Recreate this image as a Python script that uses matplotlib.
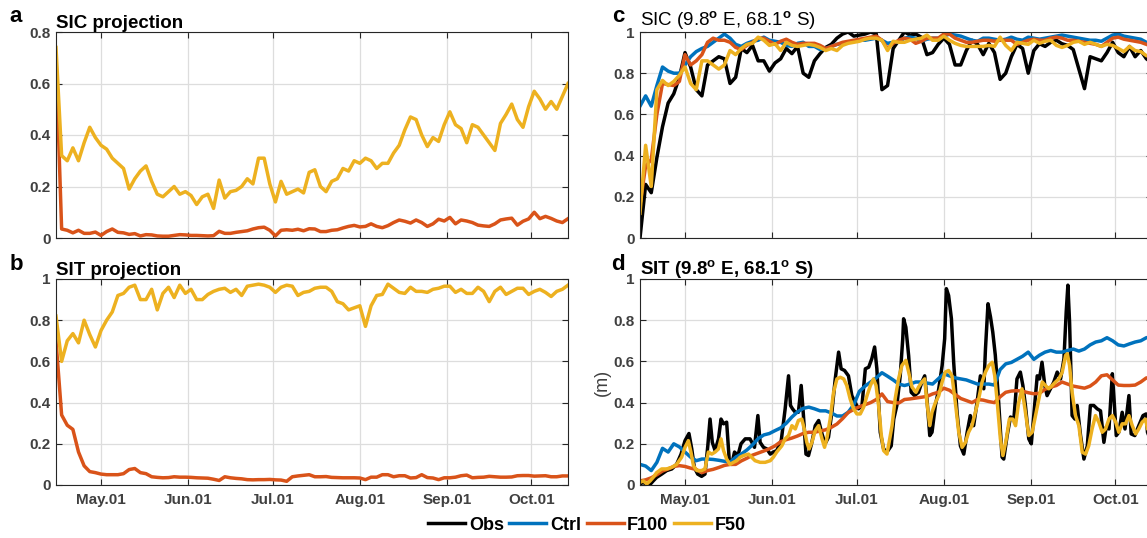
import numpy as np
import matplotlib
matplotlib.use('Agg')
import matplotlib.pyplot as plt
import matplotlib.dates as mdates
from matplotlib.ticker import FuncFormatter
import datetime as dt

plt.rcParams['font.family'] = ['Liberation Sans', 'DejaVu Sans']
plt.rcParams['font.weight'] = 'bold'
plt.rcParams['mathtext.fontset'] = 'custom'
plt.rcParams['mathtext.rm'] = 'Liberation Sans'
plt.rcParams['mathtext.bf'] = 'Liberation Sans:bold'

# ---------------- data ----------------
START = dt.datetime(2019, 4, 15)
N_DAYS = 182
month_ticks = [dt.datetime(2019, m, 1) for m in range(5, 11)]

# panel a: SIC projection (values every 2 days from Apr 15)
sic_proj_f100 = [0.70, 0.035, 0.03, 0.02, 0.03, 0.018, 0.018, 0.023, 0.01, 0.025,
                 0.035, 0.022, 0.02, 0.014, 0.017, 0.008, 0.013, 0.012, 0.008, 0.007,
                 0.007, 0.01, 0.013, 0.012, 0.01, 0.01, 0.009, 0.008, 0.009, 0.026,
                 0.018, 0.018, 0.022, 0.025, 0.028, 0.035, 0.04, 0.042, 0.03, 0.008,
                 0.03, 0.032, 0.03, 0.034, 0.028, 0.036, 0.035, 0.025, 0.025, 0.03,
                 0.032, 0.039, 0.045, 0.049, 0.043, 0.045, 0.055, 0.045, 0.04, 0.048,
                 0.06, 0.07, 0.065, 0.058, 0.07, 0.06, 0.045, 0.055, 0.073, 0.066,
                 0.08, 0.055, 0.07, 0.066, 0.06, 0.05, 0.047, 0.045, 0.055, 0.07,
                 0.074, 0.077, 0.05, 0.065, 0.074, 0.10, 0.075, 0.084, 0.076, 0.066,
                 0.06, 0.075]
sic_proj_f50 = [0.74, 0.32, 0.30, 0.35, 0.30, 0.37, 0.43, 0.39, 0.36, 0.345,
                0.31, 0.29, 0.27, 0.19, 0.23, 0.26, 0.28, 0.22, 0.17, 0.16,
                0.18, 0.20, 0.17, 0.18, 0.165, 0.13, 0.16, 0.17, 0.115, 0.225,
                0.155, 0.18, 0.185, 0.20, 0.23, 0.21, 0.31, 0.31, 0.21, 0.14,
                0.22, 0.17, 0.18, 0.19, 0.175, 0.255, 0.265, 0.20, 0.18, 0.22,
                0.23, 0.27, 0.26, 0.30, 0.29, 0.31, 0.30, 0.27, 0.29, 0.29,
                0.33, 0.36, 0.42, 0.47, 0.46, 0.40, 0.355, 0.39, 0.375, 0.44,
                0.49, 0.44, 0.425, 0.37, 0.44, 0.43, 0.40, 0.37, 0.34, 0.445,
                0.48, 0.52, 0.46, 0.43, 0.51, 0.57, 0.54, 0.50, 0.53, 0.50,
                0.55, 0.60]

# panel b: SIT projection
sit_proj_f100 = [0.70, 0.34, 0.29, 0.27, 0.16, 0.093, 0.065, 0.06, 0.053, 0.05,
                 0.05, 0.05, 0.055, 0.075, 0.08, 0.06, 0.055, 0.04, 0.037, 0.035,
                 0.036, 0.04, 0.038, 0.038, 0.037, 0.035, 0.034, 0.033, 0.028, 0.022,
                 0.04, 0.035, 0.032, 0.03, 0.026, 0.025, 0.026, 0.026, 0.027, 0.025,
                 0.024, 0.018, 0.04, 0.044, 0.047, 0.05, 0.04, 0.04, 0.041, 0.037,
                 0.036, 0.035, 0.035, 0.035, 0.034, 0.026, 0.038, 0.038, 0.05, 0.05,
                 0.04, 0.045, 0.045, 0.034, 0.036, 0.05, 0.036, 0.034, 0.026, 0.035,
                 0.035, 0.038, 0.045, 0.048, 0.035, 0.037, 0.038, 0.042, 0.04, 0.038,
                 0.038, 0.039, 0.045, 0.046, 0.046, 0.043, 0.044, 0.045, 0.04, 0.04,
                 0.044, 0.044]
sit_proj_f50 = [0.82, 0.60, 0.70, 0.735, 0.69, 0.80, 0.73, 0.67, 0.75, 0.80,
                0.84, 0.92, 0.93, 0.96, 0.97, 0.90, 0.90, 0.95, 0.85, 0.93,
                0.96, 0.91, 0.97, 0.93, 0.95, 0.90, 0.90, 0.925, 0.94, 0.95,
                0.955, 0.935, 0.95, 0.92, 0.965, 0.97, 0.975, 0.97, 0.96, 0.935,
                0.96, 0.97, 0.965, 0.92, 0.935, 0.94, 0.955, 0.96, 0.96, 0.94,
                0.89, 0.88, 0.85, 0.86, 0.87, 0.77, 0.87, 0.92, 0.925, 0.975,
                0.955, 0.935, 0.93, 0.96, 0.94, 0.94, 0.935, 0.95, 0.955, 0.965,
                0.965, 0.935, 0.95, 0.93, 0.93, 0.96, 0.94, 0.89, 0.94, 0.96,
                0.925, 0.94, 0.955, 0.955, 0.925, 0.94, 0.95, 0.935, 0.915, 0.94,
                0.95, 0.97]

# panel c: SIC at 9.8E, 68.1S
sic_obs = [0.0, 0.26, 0.22, 0.39, 0.54, 0.655, 0.70, 0.78, 0.90, 0.83,
           0.72, 0.69, 0.84, 0.86, 0.88, 0.87, 0.75, 0.78, 0.92, 0.90,
           0.935, 0.86, 0.86, 0.81, 0.85, 0.87, 0.92, 0.895, 0.93, 0.80,
           0.78, 0.86, 0.895, 0.925, 0.94, 0.97, 0.99, 1.0, 0.98, 0.985,
           0.99, 1.0, 0.99, 0.72, 0.74, 0.92, 0.96, 1.0, 0.985, 0.99,
           0.975, 0.89, 0.90, 0.94, 0.97, 0.94, 0.84, 0.84, 0.91, 0.96,
           0.94, 0.89, 0.945, 0.90, 0.77, 0.80, 0.88, 0.94, 0.92, 0.80,
           0.91, 0.943, 0.93, 0.95, 0.96, 0.943, 0.935, 0.915, 0.82, 0.725,
           0.88, 0.87, 0.86, 0.90, 0.95, 0.90, 0.88, 0.93, 0.88, 0.91,
           0.87, 0.85]
sic_ctrl = [0.64, 0.69, 0.64, 0.74, 0.83, 0.81, 0.80, 0.80, 0.84, 0.88,
            0.905, 0.92, 0.93, 0.95, 0.97, 0.99, 0.97, 0.94, 0.93, 0.945,
            0.955, 0.96, 0.975, 0.96, 0.955, 0.95, 0.935, 0.93, 0.945, 0.95,
            0.93, 0.93, 0.915, 0.92, 0.93, 0.94, 0.945, 0.95, 0.955, 0.96,
            0.96, 0.965, 0.97, 0.96, 0.945, 0.95, 0.95, 0.97, 0.975, 0.97,
            0.955, 0.965, 0.97, 0.97, 0.98, 0.99, 0.985, 0.98, 0.97, 0.96,
            0.955, 0.97, 0.97, 0.965, 0.96, 0.965, 0.975, 0.965, 0.96, 0.975,
            0.97, 0.965, 0.97, 0.975, 0.98, 0.985, 0.98, 0.975, 0.97, 0.965,
            0.96, 0.96, 0.955, 0.97, 0.985, 0.99, 0.98, 0.975, 0.97, 0.965,
            0.95, 0.94]
sic_f100 = [0.16, 0.35, 0.38, 0.60, 0.75, 0.745, 0.74, 0.76, 0.89, 0.84,
            0.86, 0.89, 0.95, 0.97, 0.96, 0.96, 0.95, 0.925, 0.915, 0.935,
            0.95, 0.97, 0.97, 0.955, 0.94, 0.955, 0.965, 0.95, 0.94, 0.945,
            0.945, 0.945, 0.935, 0.92, 0.93, 0.94, 0.95, 0.955, 0.96, 0.965,
            0.97, 0.975, 0.98, 0.96, 0.92, 0.945, 0.96, 0.97, 0.965, 0.945,
            0.955, 0.97, 0.97, 0.97, 0.99, 0.99, 0.97, 0.96, 0.95, 0.95,
            0.955, 0.96, 0.96, 0.955, 0.96, 0.96, 0.96, 0.94, 0.95, 0.96,
            0.965, 0.96, 0.96, 0.97, 0.975, 0.97, 0.96, 0.96, 0.955, 0.95,
            0.945, 0.94, 0.93, 0.95, 0.97, 0.975, 0.965, 0.96, 0.955, 0.95,
            0.94, 0.93]
sic_f50 = [0.12, 0.45, 0.25, 0.72, 0.765, 0.74, 0.76, 0.79, 0.83, 0.75,
           0.72, 0.86, 0.86, 0.84, 0.82, 0.84, 0.91, 0.89, 0.92, 0.94,
           0.945, 0.975, 0.96, 0.935, 0.943, 0.91, 0.95, 0.935, 0.93, 0.935,
           0.94, 0.935, 0.925, 0.91, 0.92, 0.91, 0.935, 0.945, 0.95, 0.955,
           0.965, 0.97, 0.97, 0.96, 0.91, 0.955, 0.95, 0.95, 0.96, 0.965,
           0.97, 0.985, 0.96, 0.96, 0.98, 0.96, 0.945, 0.935, 0.93, 0.93,
           0.93, 0.93, 0.935, 0.93, 0.975, 0.935, 0.91, 0.95, 0.945, 0.94,
           0.96, 0.945, 0.955, 0.96, 0.935, 0.925, 0.935, 0.95, 0.955, 0.94,
           0.95, 0.94, 0.93, 0.94, 0.935, 0.92, 0.905, 0.93, 0.91, 0.905,
           0.885, 0.88]

# panel d: SIT at 9.8E, 68.1S (m)
sit_ctrl = [0.10, 0.092, 0.07, 0.11, 0.178, 0.16, 0.20, 0.185, 0.16, 0.135,
            0.118, 0.126, 0.126, 0.124, 0.12, 0.115, 0.11, 0.135, 0.15, 0.17,
            0.195, 0.225, 0.243, 0.25, 0.264, 0.277, 0.30, 0.33, 0.355, 0.372,
            0.378, 0.37, 0.36, 0.36, 0.35, 0.335, 0.335, 0.353, 0.39, 0.455,
            0.48, 0.50, 0.52, 0.545, 0.528, 0.51, 0.49, 0.483, 0.49, 0.50,
            0.50, 0.495, 0.49, 0.515, 0.54, 0.53, 0.52, 0.515, 0.51, 0.50,
            0.49, 0.49, 0.49, 0.485, 0.56, 0.588, 0.595, 0.61, 0.625, 0.645,
            0.61, 0.63, 0.645, 0.653, 0.645, 0.645, 0.653, 0.66, 0.65, 0.66,
            0.68, 0.694, 0.70, 0.715, 0.70, 0.68, 0.675, 0.685, 0.694, 0.70,
            0.715, 0.72]
sit_f100 = [0.02, 0.025, 0.035, 0.05, 0.068, 0.078, 0.09, 0.094, 0.09, 0.082,
            0.075, 0.06, 0.07, 0.076, 0.085, 0.095, 0.10, 0.10, 0.117, 0.13,
            0.145, 0.155, 0.165, 0.176, 0.19, 0.21, 0.22, 0.228, 0.238, 0.25,
            0.256, 0.256, 0.262, 0.268, 0.28, 0.296, 0.322, 0.352, 0.367, 0.38,
            0.39, 0.40, 0.415, 0.442, 0.405, 0.40, 0.398, 0.415, 0.418, 0.422,
            0.426, 0.43, 0.442, 0.45, 0.47, 0.46, 0.44, 0.42, 0.41, 0.40,
            0.415, 0.412, 0.405, 0.40, 0.428, 0.45, 0.456, 0.458, 0.455, 0.448,
            0.443, 0.445, 0.465, 0.475, 0.483, 0.50, 0.49, 0.48, 0.475, 0.47,
            0.48, 0.50, 0.53, 0.535, 0.51, 0.485, 0.483, 0.483, 0.485, 0.50,
            0.52, 0.52]
# (day since Apr 15, value) vertices for the spiky series
sit_obs_pts = [(0, 0.005), (1.2, 0.013), (2.4, 0.0), (3.6, 0.003), (4.7, 0.02), (5.9, 0.037),
    (7.7, 0.053), (9.5, 0.07), (11.3, 0.078), (13, 0.10), (14.6, 0.15), (16, 0.215), (17.4, 0.25),
    (18.4, 0.175), (19.3, 0.086), (20.5, 0.053), (21.9, 0.042), (23.1, 0.053), (24.1, 0.19),
    (24.9, 0.32), (25.7, 0.207), (26.7, 0.167), (27.9, 0.224), (28.8, 0.32), (29.7, 0.297),
    (30.8, 0.305), (31.7, 0.126), (32.6, 0.10), (33.6, 0.16), (34.8, 0.143), (35.9, 0.20),
    (37.4, 0.224), (39.1, 0.224), (40.7, 0.183), (41.9, 0.337), (42.7, 0.207), (43.9, 0.183),
    (45.1, 0.175), (46.3, 0.15), (47.4, 0.16), (48.6, 0.167), (50.2, 0.215), (51.6, 0.37),
    (52.8, 0.53), (53.5, 0.386), (54.2, 0.37), (55.2, 0.353), (56.3, 0.353), (57.3, 0.483),
    (58.1, 0.337), (59, 0.15), (59.9, 0.143), (61.1, 0.207), (62.3, 0.288), (63.5, 0.313),
    (64.7, 0.248), (65.8, 0.20), (67, 0.232), (68.2, 0.353), (69.4, 0.515), (70.6, 0.645),
    (71.5, 0.564), (72.7, 0.556), (74.1, 0.53), (75.3, 0.434), (76.5, 0.40), (77.7, 0.37),
    (78.9, 0.386), (80.1, 0.564), (81.3, 0.572), (82.4, 0.613), (83.4, 0.67), (84.2, 0.564),
    (85.4, 0.256), (86.6, 0.175), (87.8, 0.16), (89.3, 0.19), (90.2, 0.32), (91.3, 0.386),
    (92.5, 0.53), (93.4, 0.71), (93.7, 0.807), (94.5, 0.766), (95.5, 0.627), (96.4, 0.45),
    (97.6, 0.434), (99, 0.45), (100.2, 0.50), (101.2, 0.53), (102, 0.418), (103, 0.24),
    (103.8, 0.256), (105, 0.386), (106.2, 0.467), (107.4, 0.58), (108.3, 0.71), (108.9, 0.953),
    (109.7, 0.92), (110.7, 0.807), (111.5, 0.596), (112.7, 0.353), (113.9, 0.19), (115.1, 0.15),
    (116.3, 0.256), (117.4, 0.337), (118.6, 0.288), (119.8, 0.40), (121, 0.53), (122.2, 0.467),
    (122.8, 0.66), (123.7, 0.88), (124.6, 0.815), (125.4, 0.742), (126.3, 0.63), (127.5, 0.40),
    (128.7, 0.135), (129.3, 0.126), (130.5, 0.24), (131.7, 0.33), (132.9, 0.32), (134, 0.515),
    (135.2, 0.548), (136.1, 0.483), (137, 0.386), (138.2, 0.224), (139.1, 0.20), (140.3, 0.386),
    (141.2, 0.53), (142, 0.515), (142.9, 0.596), (143.9, 0.483), (144.7, 0.434), (145.9, 0.467),
    (147.1, 0.50), (148.3, 0.548), (149.5, 0.515), (150.7, 0.612), (151.5, 0.84), (152.1, 0.97),
    (152.7, 0.79), (153.6, 0.337), (154.6, 0.32), (155.4, 0.386), (156.6, 0.24), (157.8, 0.126),
    (159, 0.19), (160.1, 0.386), (161.3, 0.386), (162.5, 0.37), (163.7, 0.36), (164.9, 0.207),
    (165.7, 0.28), (166.7, 0.272), (167.9, 0.54), (168.5, 0.418), (169.3, 0.24), (170.2, 0.256),
    (171.4, 0.353), (172.4, 0.272), (173.8, 0.434), (174.6, 0.248), (175.9, 0.24), (177.3, 0.288),
    (178.8, 0.337), (179.9, 0.345), (180.4, 0.256), (182, 0.2)]
sit_f50_pts = [(0, 0.013), (1.2, 0.02), (2.4, 0.005), (3.6, 0.02), (4.7, 0.037), (5.9, 0.06),
    (7.7, 0.078), (9.5, 0.078), (11.3, 0.086), (13, 0.10), (14.8, 0.135), (16, 0.183), (17.2, 0.215),
    (18.1, 0.16), (19, 0.094), (20.2, 0.07), (21.9, 0.07), (23.1, 0.078), (24.3, 0.16), (25.5, 0.15),
    (26.7, 0.16), (27.9, 0.175), (28.8, 0.224), (29.7, 0.167), (30.8, 0.126), (32, 0.10), (33.2, 0.11),
    (34.4, 0.118), (35.6, 0.135), (36.8, 0.143), (38.6, 0.15), (39.7, 0.135), (40.9, 0.118),
    (42.7, 0.11), (44.5, 0.11), (46.3, 0.118), (47.4, 0.135), (48.6, 0.16), (50.4, 0.19),
    (51.6, 0.224), (52.8, 0.24), (54, 0.288), (55.2, 0.272), (56.3, 0.313), (57.5, 0.32),
    (58.4, 0.272), (59.3, 0.207), (60.1, 0.175), (61.1, 0.207), (62.3, 0.264), (63.5, 0.288),
    (64.7, 0.224), (65.6, 0.183), (66.4, 0.224), (67.6, 0.32), (68.8, 0.45), (70, 0.515),
    (71.2, 0.523), (72.4, 0.515), (73.5, 0.483), (74.7, 0.418), (75.9, 0.37), (77.1, 0.345),
    (78.3, 0.345), (79.5, 0.378), (80.7, 0.434), (81.9, 0.483), (83, 0.515), (83.9, 0.483),
    (84.8, 0.386), (85.8, 0.24), (86.6, 0.167), (87.8, 0.15), (89.6, 0.288), (90.7, 0.418),
    (91.9, 0.515), (93.1, 0.58), (94.5, 0.605), (95.5, 0.548), (96.7, 0.475), (98.1, 0.45),
    (99, 0.475), (100.2, 0.50), (101.2, 0.515), (102, 0.40), (103, 0.288), (103.8, 0.353),
    (105, 0.40), (106.2, 0.434), (107.4, 0.50), (108.5, 0.548), (109.7, 0.556), (110.9, 0.53),
    (112.1, 0.40), (113.3, 0.256), (114.5, 0.183), (115.7, 0.207), (116.8, 0.256), (118, 0.288),
    (119.2, 0.353), (120.4, 0.418), (121.6, 0.50), (122.8, 0.548), (124, 0.58), (125.2, 0.596),
    (126.1, 0.53), (127, 0.40), (128.1, 0.224), (129, 0.143), (130.1, 0.215), (131.3, 0.32),
    (132.5, 0.32), (133.5, 0.288), (134.6, 0.40), (135.8, 0.467), (137, 0.353), (138.2, 0.24),
    (139.4, 0.256), (140.6, 0.337), (141.8, 0.418), (143, 0.50), (144.1, 0.483), (145.3, 0.467),
    (146.5, 0.483), (147.7, 0.50), (148.9, 0.515), (150.1, 0.548), (151.3, 0.63), (151.9, 0.637),
    (152.7, 0.58), (153.6, 0.45), (154.8, 0.337), (156, 0.288), (157.2, 0.159), (158.4, 0.15),
    (159.5, 0.19), (160.7, 0.272), (161.9, 0.337), (163.1, 0.305), (164.3, 0.256), (165.5, 0.272),
    (166.7, 0.32), (167.9, 0.337), (169.1, 0.305), (170.2, 0.256), (171.4, 0.297), (172.6, 0.297),
    (173.8, 0.337), (175, 0.288), (176.2, 0.248), (177.3, 0.272), (178.5, 0.305), (179.7, 0.32),
    (180.4, 0.272), (182, 0.26)]

series_names = ['Obs', 'Ctrl', 'F100', 'F50']
colors = {'Obs': 'k', 'Ctrl': '#0072BD', 'F100': '#D95319', 'F50': '#EDB120'}

# ---------------- helpers ----------------
x0 = mdates.date2num(START)


def even_x(vals):
    return x0 + np.arange(len(vals)) * 2.0


def pts_xy(pts):
    d, v = zip(*pts)
    return x0 + np.asarray(d, float), np.asarray(v, float)


W, H = 1147, 538
fig = plt.figure(figsize=(W / 100, H / 100), dpi=100)


def px_axes(left, top, right, bottom):
    return fig.add_axes([left / W, 1 - bottom / H, (right - left) / W, (bottom - top) / H])


def style(ax, ymax, yticks, show_xlabels):
    ax.set_xlim(x0, x0 + N_DAYS)
    ax.set_ylim(0, ymax)
    ax.set_xticks(mdates.date2num(month_ticks))
    ax.xaxis.set_major_formatter(mdates.DateFormatter('%b.%d'))
    ax.set_yticks(yticks)
    ax.yaxis.set_major_formatter(FuncFormatter(lambda v, p: f'{v:g}'))
    ax.grid(True, color='#dddddd', lw=0.9)
    ax.set_axisbelow(True)
    ax.tick_params(direction='in', top=True, right=True, length=4, width=0.8,
                   color='#262626', labelcolor='#404040', labelsize=11)
    ax.tick_params(axis='x', pad=6, labelbottom=show_xlabels)
    ax.tick_params(axis='y', pad=4)
    for s in ax.spines.values():
        s.set_color('#262626')
        s.set_linewidth(0.8)


LW = 2.5
axA = px_axes(56, 32, 568, 238)
axB = px_axes(56, 279, 568, 485)
axC = px_axes(640, 32, 1152, 238)
axD = px_axes(640, 279, 1152, 485)

axA.plot(even_x(sic_proj_f100), sic_proj_f100, color=colors['F100'], lw=LW)
axA.plot(even_x(sic_proj_f50), sic_proj_f50, color=colors['F50'], lw=LW)
style(axA, 0.8, [0, 0.2, 0.4, 0.6, 0.8], False)
axA.set_title('SIC projection', loc='left', fontsize=13.5, fontweight='bold', pad=3)

axB.plot(even_x(sit_proj_f100), sit_proj_f100, color=colors['F100'], lw=LW)
axB.plot(even_x(sit_proj_f50), sit_proj_f50, color=colors['F50'], lw=LW)
style(axB, 1.0, [0, 0.2, 0.4, 0.6, 0.8, 1.0], True)
axB.set_title('SIT projection', loc='left', fontsize=13.5, fontweight='bold', pad=3)

axC.plot(even_x(sic_obs), sic_obs, color=colors['Obs'], lw=LW)
axC.plot(even_x(sic_ctrl), sic_ctrl, color=colors['Ctrl'], lw=LW)
axC.plot(even_x(sic_f100), sic_f100, color=colors['F100'], lw=LW)
axC.plot(even_x(sic_f50), sic_f50, color=colors['F50'], lw=LW)
style(axC, 1.0, [0, 0.2, 0.4, 0.6, 0.8, 1.0], False)
axC.set_title(r'SIC (9.8$^{\mathrm{o}}$ E, 68.1$^{\mathrm{o}}$ S)', loc='left',
              fontsize=13.5, fontweight='normal', pad=3)

ox, oy = pts_xy(sit_obs_pts)
fx, fy = pts_xy(sit_f50_pts)
h_obs, = axD.plot(ox, oy, color=colors['Obs'], lw=LW)
h_ctrl, = axD.plot(even_x(sit_ctrl), sit_ctrl, color=colors['Ctrl'], lw=LW)
h_f100, = axD.plot(even_x(sit_f100), sit_f100, color=colors['F100'], lw=LW)
h_f50, = axD.plot(fx, fy, color=colors['F50'], lw=LW)
style(axD, 1.0, [0, 0.2, 0.4, 0.6, 0.8, 1.0], True)
axD.set_title(r'SIT (9.8$^{\mathbf{o}}$ E, 68.1$^{\mathbf{o}}$ S)', loc='left',
              fontsize=13.5, fontweight='bold', pad=3)
axD.set_ylabel('(m)', fontsize=13, color='#404040', labelpad=2)

for lab, (x, y) in zip('abcd', [(16, 17), (16, 265), (618, 17), (618, 265)]):
    fig.text(x / W, 1 - y / H, lab, fontsize=16, fontweight='bold', ha='center', va='center')

fig.legend([h_obs, h_ctrl, h_f100, h_f50], series_names, loc='center',
           bbox_to_anchor=(587 / W, 1 - 525 / H), ncol=4, frameon=False,
           prop={'size': 13, 'weight': 'bold'}, handlelength=2.05,
           handletextpad=0.2, columnspacing=0.3, borderaxespad=0)

fig.savefig('out.png', dpi=100)
